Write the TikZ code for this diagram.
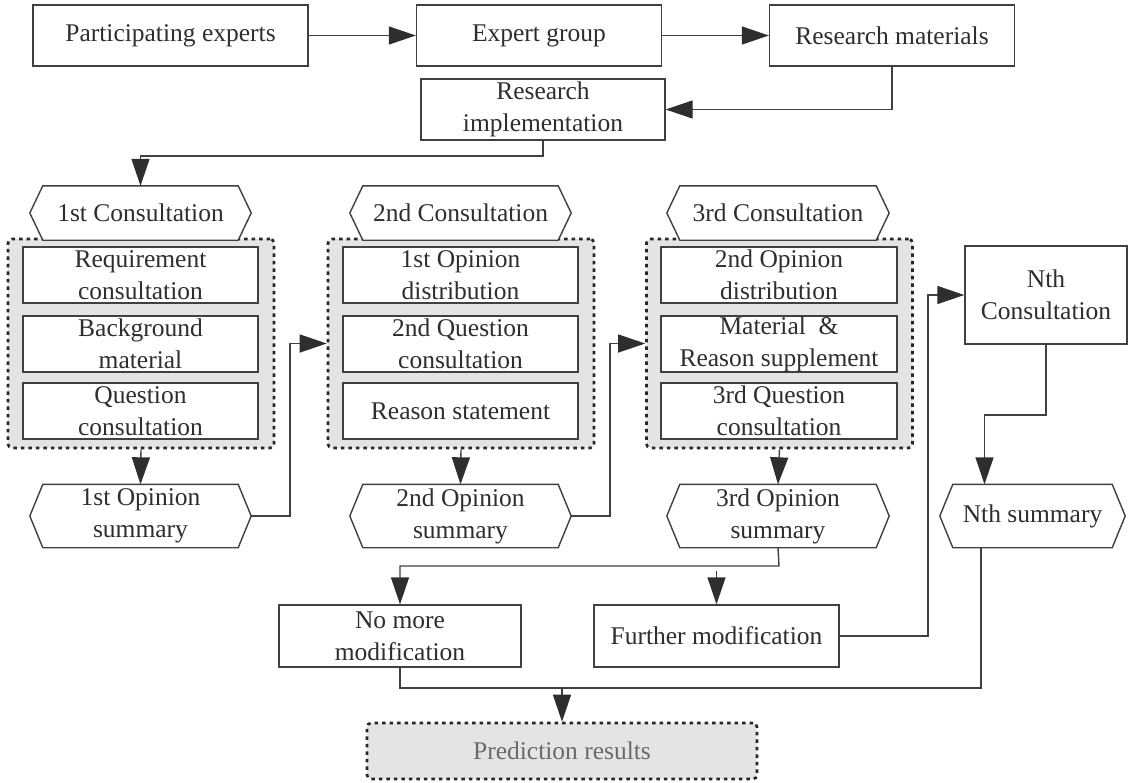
\documentclass[tikz,border=0pt]{standalone}
\usepackage{fontspec}
\setmainfont{Liberation Serif}
\usetikzlibrary{arrows.meta}
\definecolor{ln}{HTML}{404040}
\definecolor{tx}{HTML}{2E2E2E}
\definecolor{grp}{HTML}{E4E4E4}
\definecolor{ptx}{HTML}{6A6A6A}
\tikzset{
  base/.style={inner sep=0pt, align=center, text=tx, font=\fontsize{25.5}{32}\selectfont},
  box/.style={base, draw=ln, line width=1.4pt, fill=white},
  hexnode/.style={base, draw=none},
  group/.style={draw=black!85, fill=grp, line width=2.6pt, dash pattern=on 3.5pt off 4pt, rounded corners=4pt, inner sep=0pt},
  line/.style={draw=ln, line width=1.4pt},
  arr/.style={line, arrows={-{Triangle[length=27pt,width=18pt,fill=tx,color=tx]}}},
}
\begin{document}
\begin{tikzpicture}[x=1pt,y=-1pt]
\useasboundingbox (0,0) rectangle (1129,782);
% top row
\node[box, minimum width=275pt, minimum height=61pt] (pe) at (170.5,35.5) {Participating experts};
\node[box, minimum width=245pt, minimum height=61pt] (eg) at (539,35.5) {Expert group};
\node[box, minimum width=245pt, minimum height=61pt] (rm) at (892,35.5) {Research materials};
\node[box, minimum width=244pt, minimum height=61pt] (ri) at (543,109.5) {Research\\implementation};
% groups
\foreach \c/\g/\x in {1/g1/141, 2/g2/461, 3/g3/779.5}{
  \node[group, minimum width=266pt, minimum height=209pt] (\g) at (\x,343.5) {};
}
% consultation hexagons
\node[hexnode, minimum width=221pt, minimum height=54pt] (c1) at (140.5,213) {1st Consultation};
\node[hexnode, minimum width=221pt, minimum height=54pt] (c2) at (460.5,213) {2nd Consultation};
\node[hexnode, minimum width=222pt, minimum height=54pt] (c3) at (778,213) {3rd Consultation};
% inner boxes
\tikzset{inner/.style={box, minimum width=235pt, minimum height=56pt}}
\node[inner] (a1) at (140.5,275) {Requirement\\consultation};
\node[inner] (a2) at (140.5,344) {Background\\material};
\node[inner] (a3) at (140.5,411) {Question\\consultation};
\node[inner] (b1) at (460.5,275) {1st Opinion\\distribution};
\node[inner] (b2) at (460.5,344) {2nd Question\\consultation};
\node[inner] (b3) at (460.5,411) {Reason statement};
\node[inner, minimum width=236pt] (d1) at (779,275) {2nd Opinion\\distribution};
\node[inner, minimum width=236pt] (d2) at (779,344) {Material~~\&\\Reason supplement};
\node[inner, minimum width=236pt] (d3) at (779,411) {3rd Question\\consultation};
% summaries
\node[hexnode, minimum width=221pt, minimum height=63pt] (s1) at (140.5,516) {1st Opinion\\summary};
\node[hexnode, minimum width=221pt, minimum height=63pt] (s2) at (460.5,516) {2nd Opinion\\summary};
\node[hexnode, minimum width=222pt, minimum height=63pt] (s3) at (778,516) {3rd Opinion\\summary};
\node[hexnode, minimum width=185pt, minimum height=63pt] (sN) at (1032.5,516) {Nth summary};
% Nth consultation
\node[box, minimum width=162pt, minimum height=98pt] (nth) at (1046,295) {Nth\\Consultation};
% modification boxes
\node[box, minimum width=242pt, minimum height=62pt] (nm) at (400,636) {No more\\modification};
\node[box, minimum width=245pt, minimum height=62pt] (fm) at (716.5,636) {Further modification};
% prediction
\node[group, base, text=ptx, minimum width=390pt, minimum height=56pt] (pr) at (562,751) {Prediction results};
% hexagon outlines
\foreach \n in {c1,c2,c3,s1,s2,s3,sN}{
  \draw[line, fill=white] (\n.west) -- ([xshift=13pt]\n.north west) -- ([xshift=-13pt]\n.north east) -- (\n.east) -- ([xshift=-13pt]\n.south east) -- ([xshift=13pt]\n.south west) -- cycle;
}
\foreach \n/\t in {c1/{1st Consultation},c2/{2nd Consultation},c3/{3rd Consultation},s1/{1st Opinion\\summary},s2/{2nd Opinion\\summary},s3/{3rd Opinion\\summary},sN/{Nth summary}}{
  \node[base] at (\n.center) {\t};
}
% connectors
\draw[arr] (pe) -- (eg);
\draw[arr] (eg) -- (rm);
\draw[arr] (rm.south) |- (ri.east);
\coordinate (k1) at (543,156);
\draw[arr] (ri.south) -- (k1) -| (c1.north);
\draw[arr] (g1.south) -- (s1.north);
\draw[arr] (g2.south) -- (s2.north);
\draw[arr] (g3.south) -- (s3.north);
\coordinate (k2) at (290,0);
\draw[arr] (s1.east) -- (s1.east -| k2) |- (g2.west);
\coordinate (k3) at (610,0);
\draw[arr] (s2.east) -- (s2.east -| k3) |- (g3.west);
\coordinate (k4) at (928,0);
\draw[arr] (fm.east) -- (fm.east -| k4) |- (nth.west);
\coordinate (k5) at (1046,415);
\coordinate (k6) at (984.5,415);
\draw[arr] (nth.south) -- (k5) -- (k6) -- (k6 |- sN.north);
\coordinate (k7) at (779,566);
\coordinate (k8) at (400,566);
\draw[arr] (s3.south) -- (k7) -- (k8) -- (nm.north);
\coordinate (k9) at (716.5,571);
\draw[arr] (k9) -- (fm.north);
\coordinate (k10) at (981,688);
\coordinate (k11) at (562,688);
\draw[line] (sN.south -| k10) -- (k10) -- (k11);
\draw[line] (nm.south) |- (k11);
\draw[arr] (k11) -- (pr.north);
\end{tikzpicture}
\end{document}
